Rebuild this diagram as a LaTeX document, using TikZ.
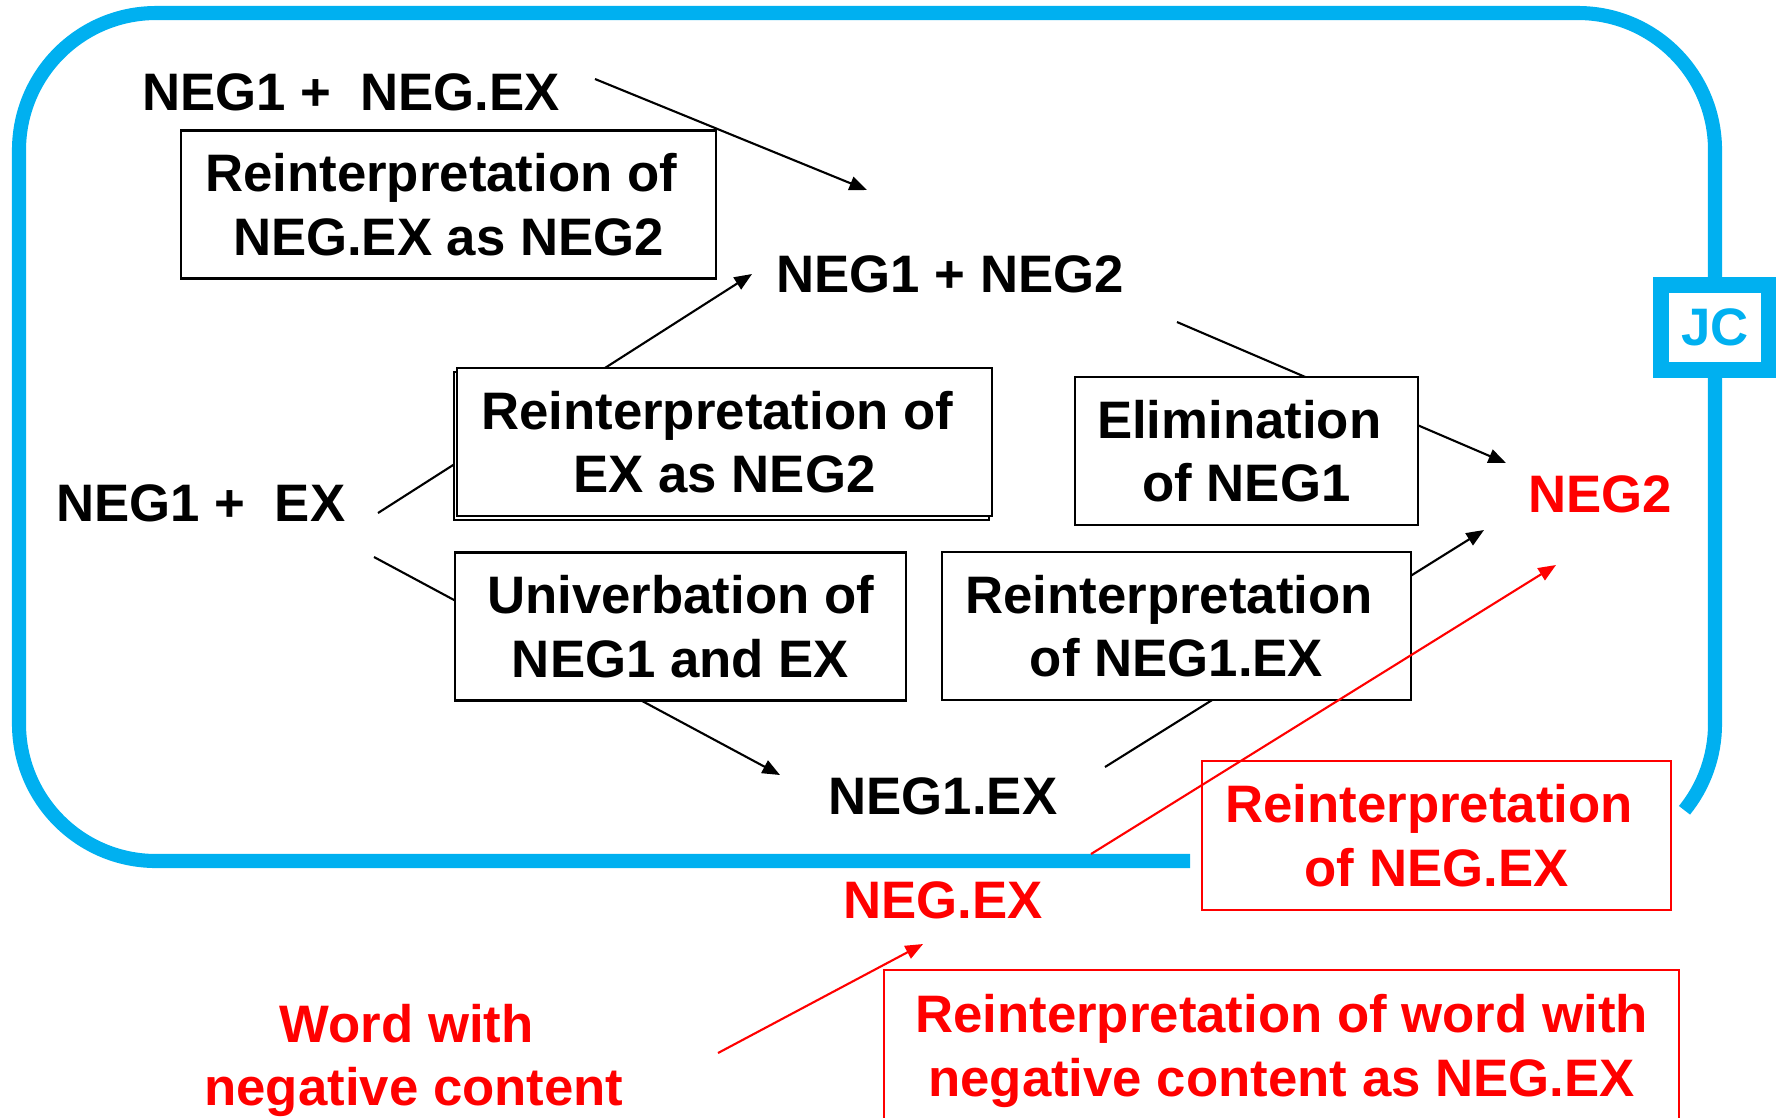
\documentclass[tikz,border=0pt]{standalone}
\usepackage{fontspec}
\setmainfont{Liberation Sans}
\usetikzlibrary{arrows.meta,shadows}

\definecolor{jcblue}{RGB}{0,176,240}

\tikzset{
  stage/.style={font=\bfseries\fontsize{15}{18}\selectfont, inner sep=0pt, align=center},
  process/.style={stage, draw, line width=0.75pt, fill=white, minimum height=1.48cm},
  redprocess/.style={stage, draw=red, text=red, line width=0.6pt, minimum height=1.49cm},
  jcframe/.style={draw=jcblue, line width=4pt},
  jcbox/.style={stage, draw=jcblue, text=jcblue, fill=white, line width=4.3pt,
    minimum width=1.08cm, minimum height=0.85cm},
}

\begin{document}
\begin{tikzpicture}[x=0.01cm, y=-0.01cm, line width=0.6pt,
  >={Triangle[length=5pt,width=4pt]}]
%\draw [lightgray, ultra thin] (0,0) grid [step=100] (1776,1117);
\useasboundingbox (0,0) rectangle (1776,1117);

\draw [jcframe, rounded corners=1.37cm] (1190,861) -- (19,861) -- (19,13) -- (1715,13) -- (1715,724);
\draw [jcframe] (1715,724) arc [start angle=0, end angle=-39, radius=1.37cm];
\node [jcbox] (jc) at (1715,327.5) {JC};

\coordinate (p1) at (595,79);
\coordinate (q1) at (867,190);
\coordinate (p2) at (378,513);
\coordinate (q2) at (752,274);
\coordinate (p3) at (374,557);
\coordinate (q3) at (780,775);
\coordinate (p4) at (1105,767);
\coordinate (q4) at (1484,530);
\coordinate (p5) at (1177,322);
\coordinate (q5) at (1506,463);
\coordinate (p6) at (1091,854);
\coordinate (q6) at (1556,565);
\coordinate (p7) at (718,1053);
\coordinate (q7) at (923,944);

\draw [->] (p1) -- (q1);
\draw [->] (p2) -- (q2);
\draw [->] (p3) -- (q3);
\draw [->] (p4) -- (q4);
\draw [->] (p5) -- (q5);

\node [stage] (negex) at (351,92) {NEG1 +\ \ NEG.EX};
\node [stage] (negtwo) at (950,274) {NEG1 + NEG2};
\node [stage] (ex) at (201,503) {NEG1 +\ \ EX};
\node [stage] (fused) at (943,796) {NEG1.EX};
\node [stage, text=red] (neg) at (1600,494) {NEG2};
\node [stage, text=red] (word) at (943,900) {NEG.EX};
\node [stage, text=red, text depth=0pt] (lex) at (414,1055) {Word with\ \null\\negative content};

\node [process, minimum width=5.35cm] (reinexneg) at (448.5,204.5) {Reinterpretation of\ \null\\NEG.EX as NEG2};
\node [process, minimum width=5.35cm, copy shadow={shadow xshift=-0.03cm, shadow yshift=-0.04cm}] (reinex) at (724.5,442) {Reinterpretation of\ \null\\EX as NEG2};
\node [process, minimum width=4.51cm] (univ) at (680.5,626.5) {Univerbation of\\NEG1 and EX};
\node [process, minimum width=4.69cm] (reinfused) at (1176.5,626) {Reinterpretation\ \null\\of NEG1.EX};
\node [process, minimum width=3.43cm] (elim) at (1246.5,451) {Elimination\ \null\\of NEG1};
\node [redprocess, minimum width=4.69cm] (reinword) at (1436.5,835.5) {Reinterpretation\ \null\\of NEG.EX};
\node [redprocess, minimum width=7.95cm, minimum height=1.51cm, text depth=0pt] (reinlex) at (1281.5,1045.5) {Reinterpretation of word with\\negative content as NEG.EX};

\draw [->, red] (p6) -- (q6);
\draw [->, red] (p7) -- (q7);
\end{tikzpicture}
\end{document}
